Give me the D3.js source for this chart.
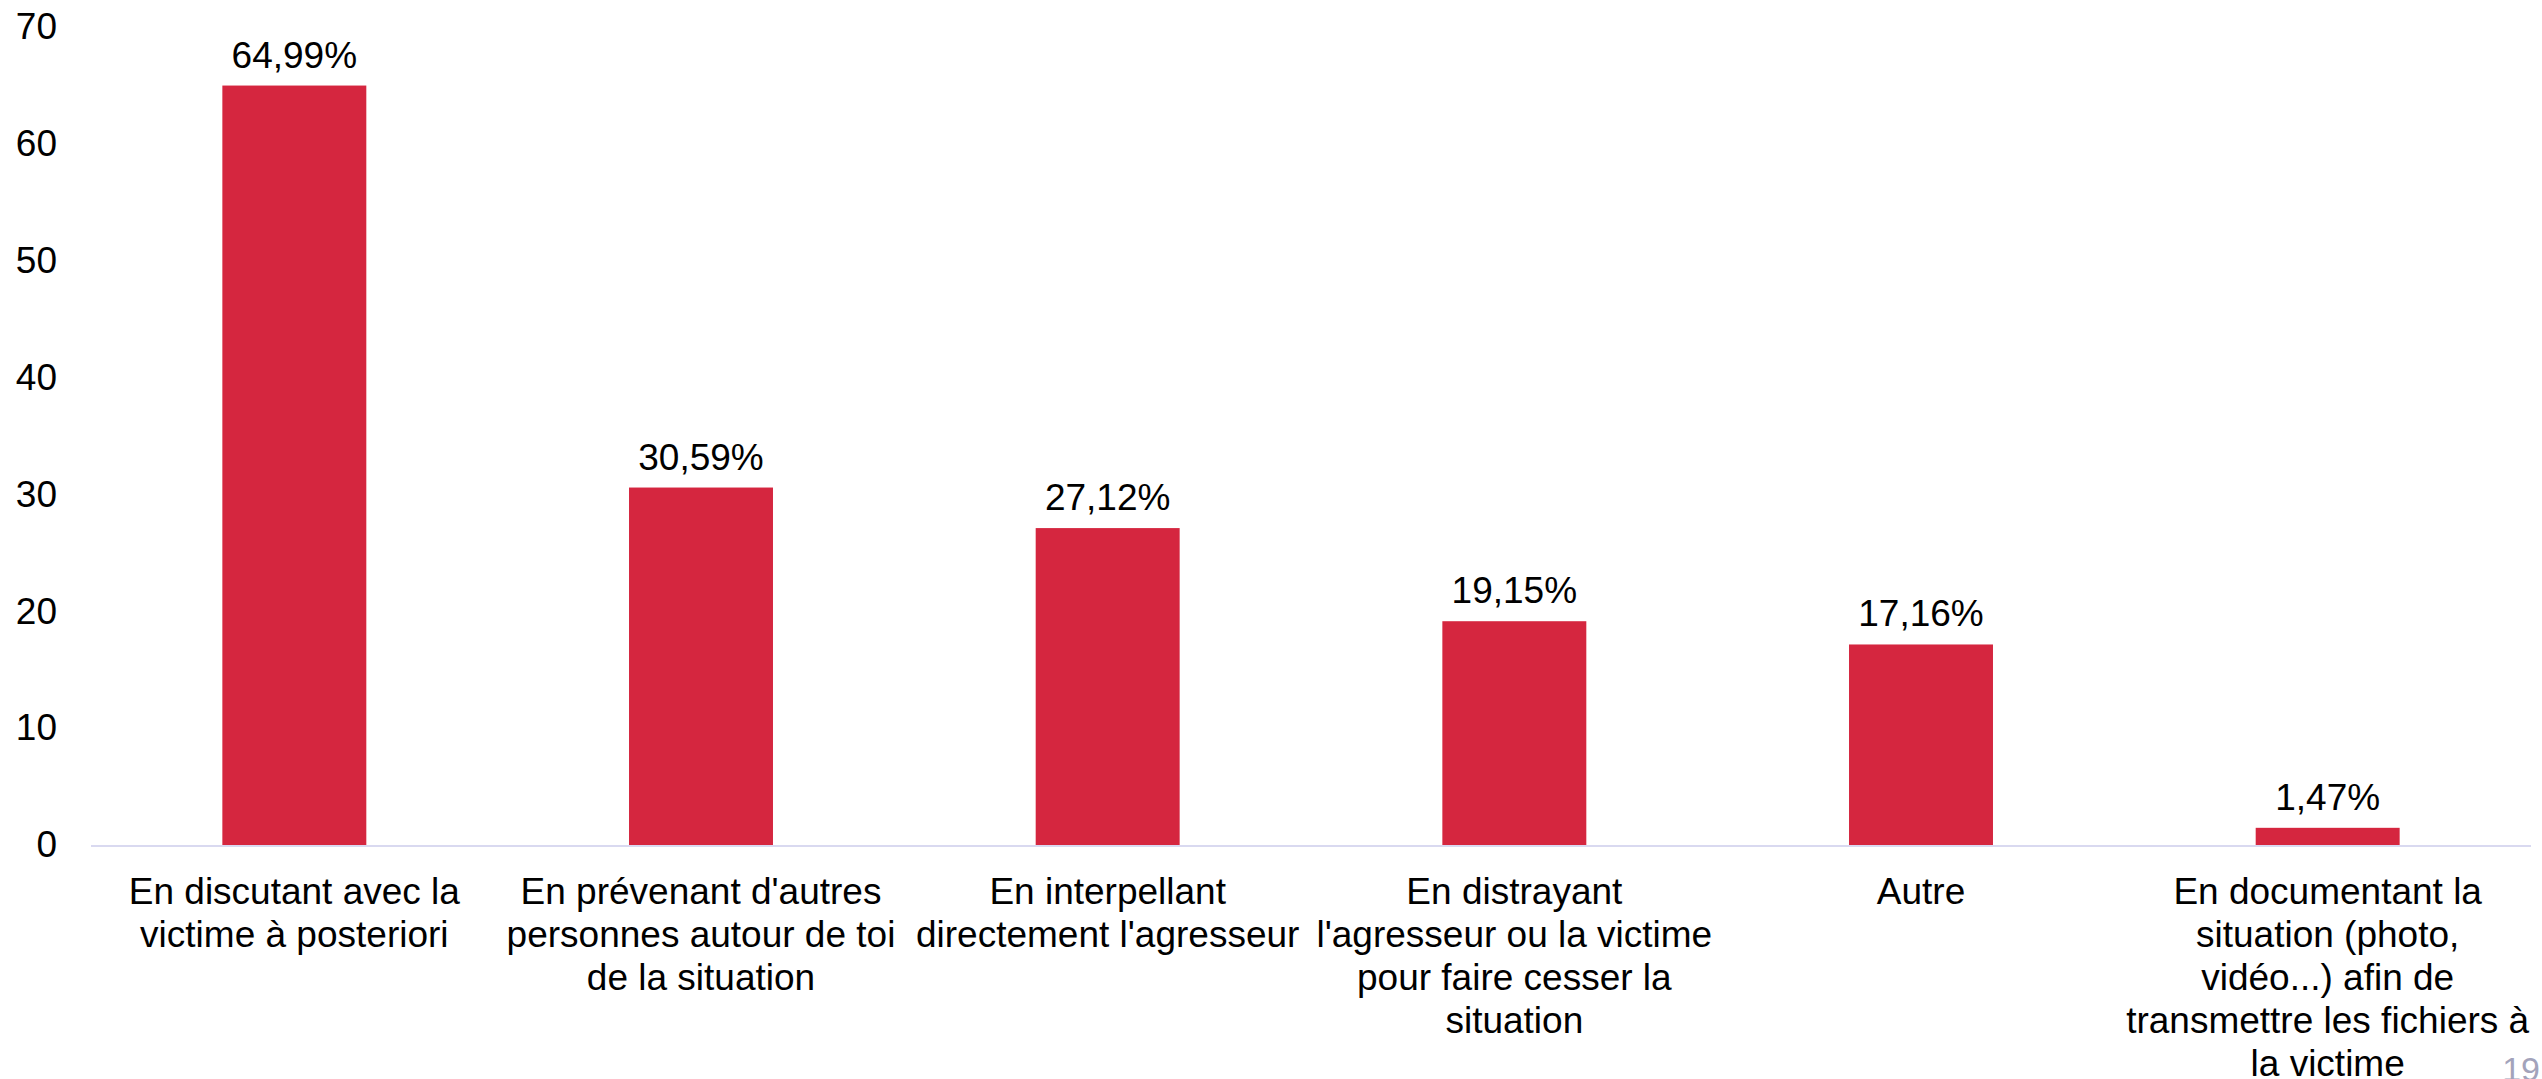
<!DOCTYPE html>
<html>
<head>
<meta charset="utf-8">
<script src="https://cdn.jsdelivr.net/npm/d3@7"></script>
<style>
  body { margin: 0; background: #fff; }
  svg text { font-family: "Liberation Sans", Arial, sans-serif; fill: #000; }
</style>
</head>
<body>
<script>
// data
var categories = [
  ["En discutant avec la", "victime à posteriori"],
  ["En prévenant d'autres", "personnes autour de toi", "de la situation"],
  ["En interpellant", "directement l'agresseur"],
  ["En distrayant", "l'agresseur ou la victime", "pour faire cesser la", "situation"],
  ["Autre"],
  ["En documentant la", "situation (photo,", "vidéo...) afin de", "transmettre les fichiers à", "la victime"]
];
var values = [64.99, 30.59, 27.12, 19.15, 17.16, 1.47];
var yTicks = [0, 10, 20, 30, 40, 50, 60, 70];
var pageNumber = "19";

var W = 2542, H = 1079;
var margin = {top: 27, right: 11, bottom: 234, left: 91},
width = W - margin.left - margin.right,
height = H - margin.top - margin.bottom;

var fontSize = 37;

var x = d3.scaleBand().domain(d3.range(values.length)).range([0, width]).paddingInner(0.646).paddingOuter(0.323);
var y = d3.scaleLinear().domain([0, 70]).range([height, 0]);

var svg = d3.select("body").append("svg")
.attr("width", W)
.attr("height", H)
.append("g")
.attr("transform", "translate(" + margin.left + "," + margin.top + ")");

// Y axis labels only
var yAxis = svg.append("g")
.attr("transform", "translate(-34,0)")
.call(d3.axisLeft(y).tickValues(yTicks).tickSize(0).tickPadding(0));
yAxis.select(".domain").remove();
yAxis.selectAll("text")
.style("font-size", fontSize + "px")
.style("font-family", "'Liberation Sans', Arial, sans-serif")
.attr("fill", "#000");

// bars
svg.selectAll("rect.bar").data(values).enter().append("rect")
.attr("class", "bar")
.attr("x", function(d, i) { return x(i); })
.attr("width", x.bandwidth())
.attr("y", function(d) { return y(d); })
.attr("height", function(d) { return height - y(d); })
.attr("fill", "#d5263f");

// baseline
svg.append("line")
.attr("x1", 0).attr("x2", width)
.attr("y1", y(0) + 1).attr("y2", y(0) + 1)
.attr("stroke", "#d9d9f0")
.attr("stroke-width", 2);

// value labels
svg.selectAll("text.val").data(values).enter().append("text")
.attr("class", "val")
.attr("x", function(d, i) { return x(i) + x.bandwidth() / 2; })
.attr("y", function(d) { return y(d) - 18; })
.attr("text-anchor", "middle")
.style("font-size", fontSize + "px")
.text(function(d) { return d.toFixed(2).replace(".", ",") + "%"; });

// category labels
var cat = svg.selectAll("text.cat").data(categories).enter().append("text")
.attr("class", "cat")
.attr("text-anchor", "middle")
.style("font-size", fontSize + "px")
.attr("transform", function(d, i) { return "translate(" + (x(i) + x.bandwidth() / 2) + "," + (height + 59) + ")"; });
cat.selectAll("tspan").data(function(d) { return d; }).enter().append("tspan")
.attr("x", 0)
.attr("y", function(d, j) { return j * 43; })
.text(function(d) { return d; });

// page number
d3.select("svg").append("text")
.attr("x", W - 2)
.attr("y", H + 2)
.attr("text-anchor", "end")
.style("font-size", "34px")
.style("fill", "#a3a3bb")
.text(pageNumber);
</script>
</body>
</html>
